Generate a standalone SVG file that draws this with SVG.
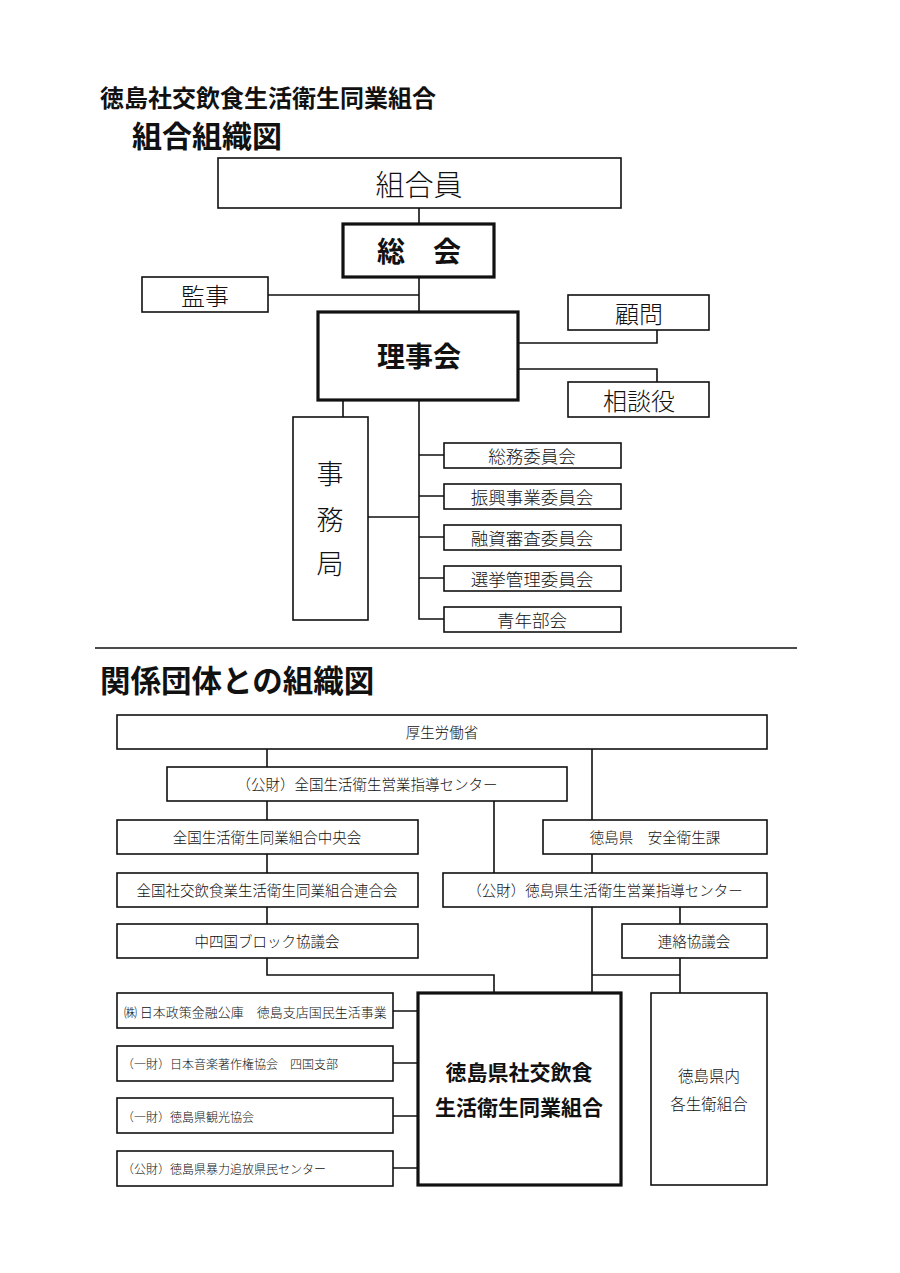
<svg xmlns="http://www.w3.org/2000/svg" width="900" height="1273" viewBox="0 0 900 1273">
<style>
text{font-family:"Noto Sans CJK JP","Noto Sans CJK SC",sans-serif;fill:#111;font-weight:300;}
.t{text-anchor:middle;dominant-baseline:central;}
.b{fill:#fff;stroke:#111;stroke-width:1.6;}
.k{fill:#fff;stroke:#111;stroke-width:3.2;}
.ln{fill:none;stroke:#111;stroke-width:1.6;}
.bold{font-weight:700;}
.s15{font-size:14.5px;}
.s12{font-size:12px;}
.s17{font-size:17.5px;}
.s24{font-size:24px;}
</style>
<rect width="900" height="1273" fill="#fff"/>
<g id="titles">
<text x="100" y="107" class="bold" font-size="24">徳島社交飲食生活衛生同業組合</text>
<text x="132" y="147" class="bold" font-size="30">組合組織図</text>
<line x1="95" y1="648" x2="797" y2="648" stroke="#111" stroke-width="1.6"/>
<text x="100" y="692" class="bold" font-size="30.5">関係団体との組織図</text>
</g>
<g id="connectors">
<path class="ln" d="M419 208V224M419 277V312M268 295H419M518 343H657V330M518 369H657V382M343 400V417M419 400V619H444M419 455H444M419 496H444M419 537H444M419 578H444M368 517H419"/>
<path class="ln" d="M267 749V767M592 749V820M267 801V820M494 801V873M267 854V873M592 854V873M267 907V924M592 907V993M680 907V924M267 958V975H494V993M592 975H680M680 958V993M393 1011H418M393 1063H418M393 1116H418M393 1168H418"/>
</g>
<g id="n-kumiaiin"><rect class="b" x="218" y="158" width="403" height="50"/><text class="t" x="419" y="183" font-size="29">組合員</text></g>
<g id="n-soukai"><rect class="k" x="343" y="224" width="151" height="53"/><text class="t bold" x="419" y="250" font-size="28">総　会</text></g>
<g id="n-kanji"><rect class="b" x="142" y="277" width="126" height="35"/><text class="t s24" x="205" y="294">監事</text></g>
<g id="n-rijikai"><rect class="k" x="318" y="312" width="200" height="88"/><text class="t bold" x="419" y="355" font-size="28">理事会</text></g>
<g id="n-komon"><rect class="b" x="568" y="295" width="141" height="35"/><text class="t s24" x="639" y="312">顧問</text></g>
<g id="n-soudan"><rect class="b" x="568" y="382" width="141" height="35"/><text class="t s24" x="639" y="399">相談役</text></g>
<g id="n-jimukyoku"><rect class="b" x="293" y="417" width="75" height="203"/><text class="t" x="330" y="472" font-size="27">事</text><text class="t" x="330" y="518" font-size="27">務</text><text class="t" x="330" y="562" font-size="27">局</text></g>
<g id="n-soumu"><rect class="b" x="444" y="443" width="177" height="25"/><text class="t s17" x="532" y="455">総務委員会</text></g>
<g id="n-shinkou"><rect class="b" x="444" y="484" width="177" height="25"/><text class="t s17" x="532" y="496">振興事業委員会</text></g>
<g id="n-yuushi"><rect class="b" x="444" y="525" width="177" height="25"/><text class="t s17" x="532" y="537">融資審査委員会</text></g>
<g id="n-senkyo"><rect class="b" x="444" y="566" width="177" height="25"/><text class="t s17" x="532" y="578">選挙管理委員会</text></g>
<g id="n-seinen"><rect class="b" x="444" y="607" width="177" height="25"/><text class="t s17" x="532" y="619">青年部会</text></g>

<g id="n-kouseiroudou"><rect class="b" x="117" y="715" width="650" height="34"/><text class="t s15" x="442" y="731">厚生労働省</text></g>
<g id="n-zenkoku-center"><rect class="b" x="167" y="767" width="400" height="34"/><text class="t s15" x="367" y="783">（公財）全国生活衛生営業指導センター</text></g>
<g id="n-chuoukai"><rect class="b" x="117" y="820" width="301" height="34"/><text class="t s15" x="267" y="836">全国生活衛生同業組合中央会</text></g>
<g id="n-anzen"><rect class="b" x="543" y="820" width="224" height="34"/><text class="t s15" x="655" y="836">徳島県　安全衛生課</text></g>
<g id="n-rengoukai"><rect class="b" x="117" y="873" width="301" height="34"/><text class="t s15" x="267" y="889">全国社交飲食業生活衛生同業組合連合会</text></g>
<g id="n-tokushima-center"><rect class="b" x="443" y="873" width="324" height="34"/><text class="t s15" x="605" y="889">（公財）徳島県生活衛生営業指導センター</text></g>
<g id="n-chushikoku"><rect class="b" x="117" y="924" width="301" height="34"/><text class="t s15" x="267" y="940">中四国ブロック協議会</text></g>
<g id="n-renraku"><rect class="b" x="622" y="924" width="145" height="34"/><text class="t s15" x="694" y="940">連絡協議会</text></g>
<g id="n-main"><rect class="k" x="418" y="993" width="203" height="192"/><text class="t bold" x="519" y="1071" font-size="21">徳島県社交飲食</text><text class="t bold" x="519" y="1106" font-size="21">生活衛生同業組合</text></g>
<g id="n-kennai"><rect class="b" x="651" y="993" width="116" height="192"/><text class="t" x="709" y="1075" font-size="15.5">徳島県内</text><text class="t" x="709" y="1103" font-size="15.5">各生衛組合</text></g>
<g id="n-koko"><rect class="b" x="117" y="993" width="276" height="35"/><text x="124" y="1011" font-size="13" dominant-baseline="central">㈱ 日本政策金融公庫　徳島支店国民生活事業</text></g>
<g id="n-jasrac"><rect class="b" x="117" y="1046" width="276" height="35"/><text class="s12" x="122" y="1063" dominant-baseline="central">（一財）日本音楽著作権協会　四国支部</text></g>
<g id="n-kankou"><rect class="b" x="117" y="1098" width="276" height="35"/><text class="s12" x="122" y="1116" dominant-baseline="central">（一財）徳島県観光協会</text></g>
<g id="n-bouryoku"><rect class="b" x="117" y="1151" width="276" height="35"/><text class="s12" x="122" y="1168" dominant-baseline="central">（公財）徳島県暴力追放県民センター</text></g>
</svg>
